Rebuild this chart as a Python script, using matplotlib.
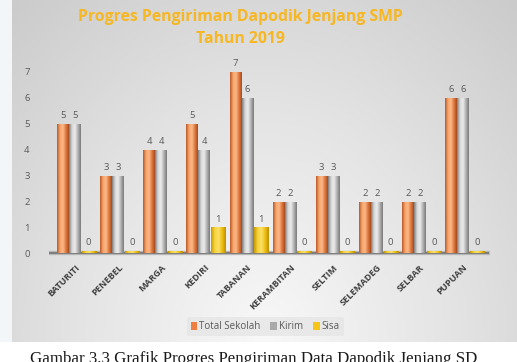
import numpy as np
import matplotlib.pyplot as plt
from matplotlib.colors import LinearSegmentedColormap
from matplotlib.patches import Rectangle

# data
kecamatan = ['BATURITI', 'PENEBEL', 'MARGA', 'KEDIRI', 'TABANAN',
             'KERAMBITAN', 'SELTIM', 'SELEMADEG', 'SELBAR', 'PUPUAN']
total_sekolah = [5, 3, 4, 5, 7, 2, 3, 2, 2, 6]
kirim = [5, 3, 4, 4, 6, 2, 3, 2, 2, 6]
sisa = [0, 0, 0, 1, 1, 0, 0, 0, 0, 0]
y_ticks = [0, 1, 2, 3, 4, 5, 6, 7]

plt.rcParams['font.family'] = ['Open Sans', 'DejaVu Sans']

fig = plt.figure(figsize=(5.17, 3.62), dpi=100)
fig.patch.set_facecolor('#f3f6f9')

# latar belakang panel dengan gradasi
bg = fig.add_axes([12 / 517, 20 / 362, 505 / 517, 342 / 362], zorder=-1)
gx, gy = np.meshgrid(np.linspace(-1, 1, 300), np.linspace(0, 1, 200))
r = np.sqrt((gx * 0.9) ** 2 + ((1 - gy) * 1.0) ** 2)
bg_cmap = LinearSegmentedColormap.from_list('bg', ['#f8f8f8', '#e4e4e4', '#cbcbcb'])
bg.imshow(r, cmap=bg_cmap, aspect='auto', extent=[0, 1, 0, 1], origin='upper',
          vmin=0, vmax=1.35)
bg.axis('off')

# bagian bawah (di luar panel)
fig.patches.append(Rectangle((0, 0), 1, 20 / 362, transform=fig.transFigure,
                             facecolor='white', edgecolor='none', zorder=0))

ax = fig.add_axes([49 / 517, (362 - 256) / 362, 440 / 517, 197 / 362])
ax.patch.set_alpha(0)

x = np.arange(len(kecamatan))
w = 0.27
series = [
    (total_sekolah, -0.28, w, ['#b8582a', '#f7a468', '#fbb98a', '#e07a3e', '#a44b20']),
    (kirim, 0.0, w, ['#7d7d7d', '#d7d7d7', '#ececec', '#b3b3b3', '#7a7a7a']),
    (sisa, 0.32, 0.33, ['#c89a00', '#f7d33c', '#fbe06a', '#eebf10', '#c08e00']),
]

for vals, off, bw, cols in series:
    cmap = LinearSegmentedColormap.from_list('c', cols)
    shown = [v if v > 0 else 0.09 for v in vals]
    bars = ax.bar(x + off, shown, width=bw, color=cols[3], zorder=3)
    grad = np.linspace(0, 1, 64).reshape(1, -1)
    for b, v in zip(bars, vals):
        bx, by = b.get_x(), b.get_y()
        bwid, bh = b.get_width(), b.get_height()
        im = ax.imshow(grad, cmap=cmap, aspect='auto', zorder=3.5,
                       extent=[bx, bx + bwid, by, by + bh])
        im.set_clip_path(b)
        ax.text(bx + bwid / 2, bh + 0.15, str(v), ha='center', va='bottom',
                fontsize=6.8, color='#595959')

# lantai
ax.axhline(0, color='#7f7f7f', lw=1.6, zorder=2)
ax.fill_between([-0.75, 9.6], [-0.02, -0.02], [0.09, 0.09], color='#bdbdbd', zorder=1)

ax.set_xlim(-0.6, 9.6)
ax.set_ylim(-0.1, 7.5)
ax.set_yticks(y_ticks)
ax.set_yticklabels([str(t) for t in y_ticks], fontsize=6.8, color='#595959')
ax.set_xticks(x)
ax.set_xticklabels(kecamatan, rotation=45, ha='right', rotation_mode='anchor',
                   fontsize=6.6, fontweight='bold', color='#404040')
ax.tick_params(axis='both', length=0)
ax.tick_params(axis='y', pad=14)
ax.tick_params(axis='x', pad=5)
for s in ax.spines.values():
    s.set_visible(False)

fig.text(0.465, 0.953, 'Progres Pengiriman Dapodik Jenjang SMP', ha='center', va='center',
         fontsize=11.3, fontweight='bold', color='#f6b723')
fig.text(0.465, 0.892, 'Tahun 2019', ha='center', va='center',
         fontsize=11.3, fontweight='bold', color='#f6b723')

handles = [Rectangle((0, 0), 1, 1, facecolor=c) for c in ['#ef7f3e', '#a9a9a9', '#f5c518']]
leg = fig.legend(handles, ['Total Sekolah', 'Kirim', 'Sisa'], loc='center',
                 bbox_to_anchor=(0.513, 0.098), ncol=3, fontsize=7, frameon=True,
                 handlelength=0.7, handleheight=0.9, handletextpad=0.2,
                 columnspacing=1.0, borderpad=0.4)
leg.get_frame().set_facecolor('#e6e6e6')
leg.get_frame().set_edgecolor('none')
leg.get_frame().set_alpha(0.8)
for t in leg.get_texts():
    t.set_color('#595959')

fig.text(0.058, -0.004, 'Gambar 3.3 Grafik Progres Pengiriman Data Dapodik Jenjang SD',
         ha='left', va='baseline', fontsize=12.2, family='Liberation Serif', color='#1a1a1a')

fig.savefig('out.png', dpi=100, facecolor=fig.get_facecolor())
